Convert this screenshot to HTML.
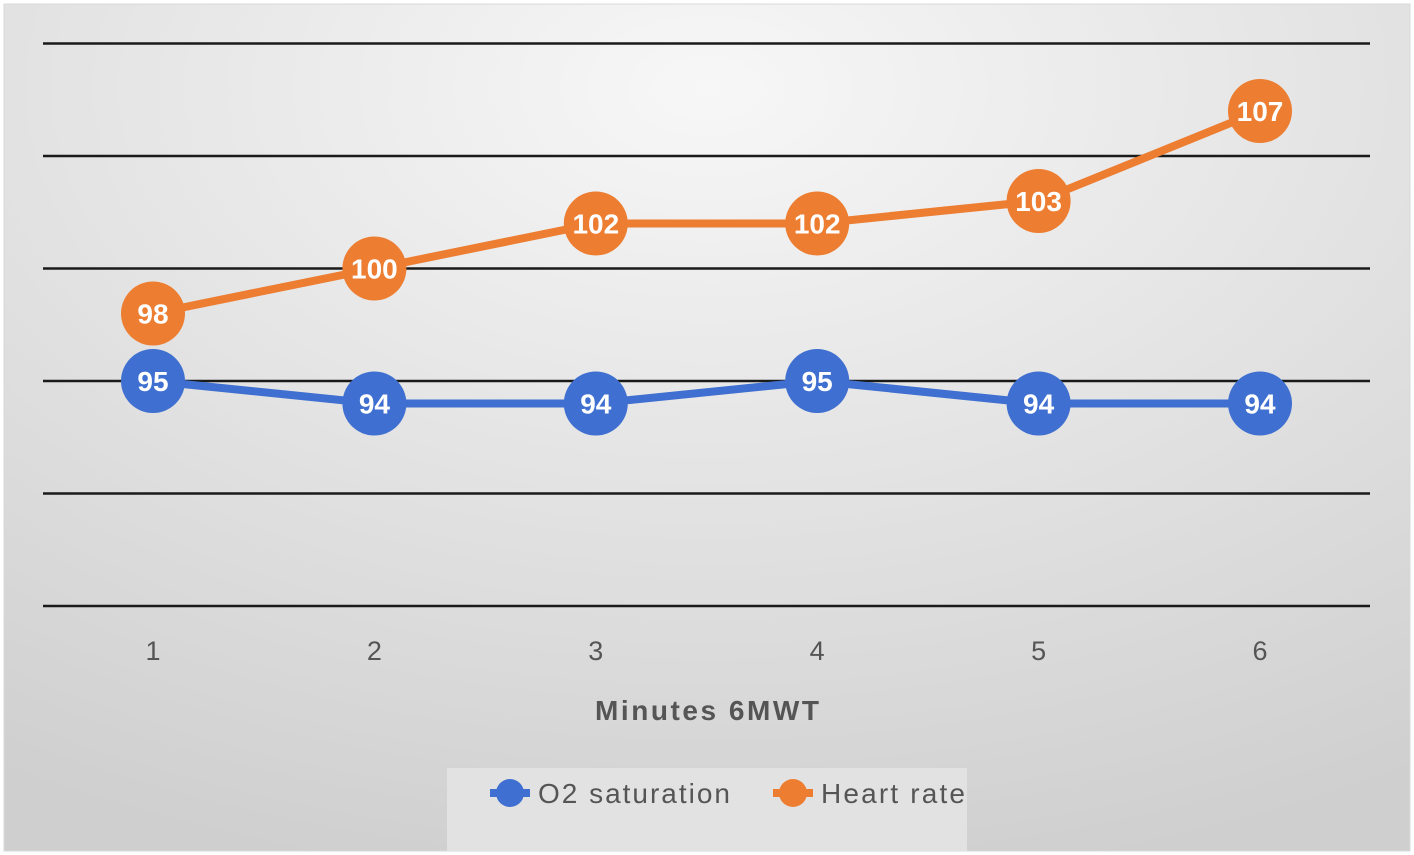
<!DOCTYPE html>
<html><head><meta charset="utf-8"><style>
html,body{margin:0;padding:0;background:#fff;}
svg{display:block;font-family:"Liberation Sans",sans-serif;}
</style></head><body>
<svg width="1414" height="855" viewBox="0 0 1414 855">
<defs>
<radialGradient id="bg" cx="0.5" cy="0.1" r="0.95">
<stop offset="0" stop-color="#f7f7f7"/><stop offset="1" stop-color="#cfcfcf"/>
</radialGradient>
</defs>
<rect x="4" y="4" width="1406" height="847" fill="url(#bg)" stroke="#d8d8d8"/>
<g id="grid"></g>
<g id="xt"></g>
<text x="707" y="720" text-anchor="middle" font-size="28" font-weight="bold" fill="#555" textLength="224">Minutes 6MWT</text>
<g id="series"></g>
<rect x="447" y="768" width="520" height="83" fill="#e2e2e2"/>
<g>
<line x1="490" y1="793" x2="530" y2="793" stroke="#3f6fd0" stroke-width="8"/><circle cx="510" cy="793" r="14" fill="#3f6fd0"/>
<text x="538" y="803" font-size="28" fill="#555" textLength="192">O2 saturation</text></g>
<g>
<line x1="773" y1="793" x2="813" y2="793" stroke="#ed7d31" stroke-width="8"/><circle cx="793" cy="793" r="14" fill="#ed7d31"/>
<text x="821" y="803" font-size="28" fill="#555" textLength="144">Heart rate</text></g>
</svg>
<script>
const categories=["1","2","3","4","5","6"];
const o2Values=[95,94,94,95,94,94];
const hrValues=[98,100,102,102,103,107];
const yTicks=[85,90,95,100,105,110];
const NS="http://www.w3.org/2000/svg";
const x=i=>153+i*221.4;
const y=v=>381-(v-95)*22.5;
function mk(t,a,p){const e=document.createElementNS(NS,t);for(const k in a)e.setAttribute(k,a[k]);p.appendChild(e);return e;}
const grid=document.getElementById('grid');
yTicks.forEach(v=>{const l=mk('line',{x1:43,x2:1370,y1:y(v),y2:y(v),stroke:'#1a1a1a','stroke-width':2.5},grid);

});
const xt=document.getElementById('xt');
categories.forEach((c,i)=>{const t=mk('text',{x:x(i),y:660,'text-anchor':'middle','font-size':27,fill:'#555'},xt);t.textContent=c;

});
const sg=document.getElementById('series');
function series(vals,color,name){
const g=mk('g',{},sg);


mk('polyline',{points:vals.map((v,i)=>x(i)+','+y(v)).join(' '),fill:'none',stroke:color,'stroke-width':8},g);
vals.forEach((v,i)=>{const c=mk('circle',{cx:x(i),cy:y(v),r:32,fill:color},g);


const t=mk('text',{x:x(i),y:y(v)+10,'text-anchor':'middle','font-size':28,'font-weight':'bold',fill:'#fff'},g);t.textContent=v;

});
}
series(hrValues,'#ed7d31','heart-rate');
series(o2Values,'#3f6fd0','o2');
</script>
</body></html>
